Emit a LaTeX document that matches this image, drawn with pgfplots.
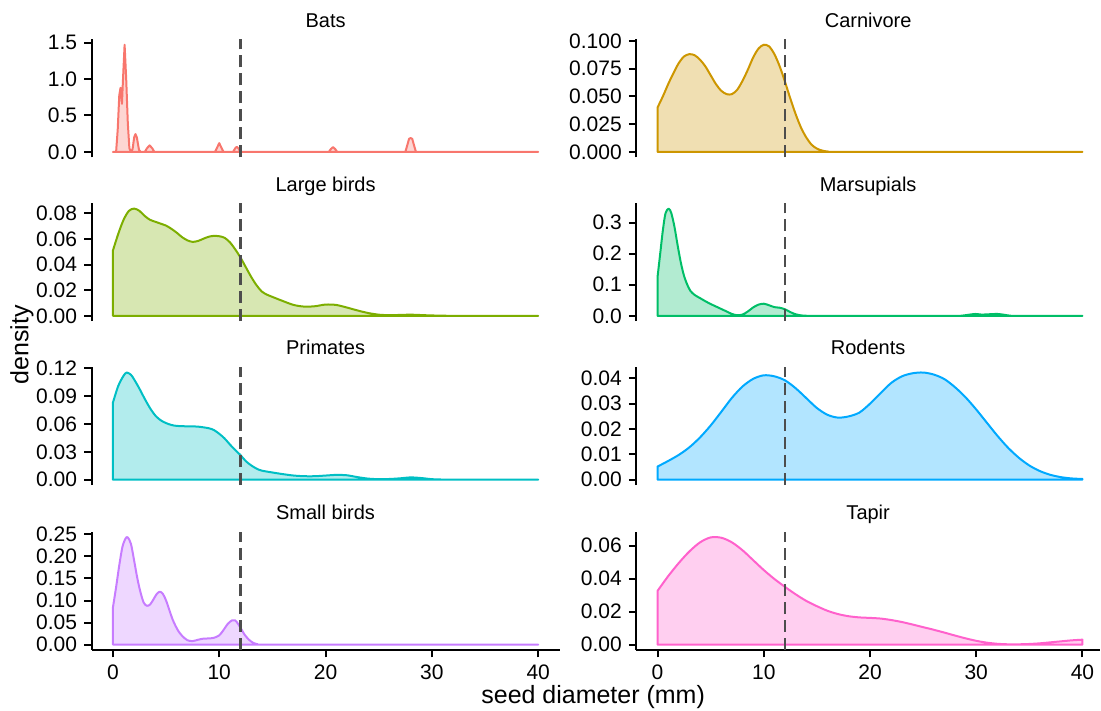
\documentclass[border=0pt]{standalone}
\usepackage{fontspec}
\setmainfont{Liberation Sans}
\usepackage{pgfplots}
\pgfplotsset{compat=1.18}

% ggplot2 hue palette, eight groups
\definecolor{cBats}{HTML}{F8766D}
\definecolor{cCarn}{HTML}{CD9600}
\definecolor{cLarge}{HTML}{7CAE00}
\definecolor{cMars}{HTML}{00BE67}
\definecolor{cPrim}{HTML}{00BFC4}
\definecolor{cRod}{HTML}{00A9FF}
\definecolor{cSmall}{HTML}{C77CFF}
\definecolor{cTapir}{HTML}{FF61CC}
\definecolor{vline}{HTML}{4D4D4D}

\pgfplotsset{
  panel/.style={
    scale only axis, anchor=south west,
    height=59pt,
    xmin=-2,
    axis y line*=left,
    axis line style={-, line width=1pt, black},
    tick style={line width=1pt, black},
    major tick length=3.75pt,
    tick align=outside,
    ytick pos=left,
    scaled y ticks=false,
    /pgf/number format/assume math mode=true,
    tick label style={font=\fontsize{10.5}{12}\selectfont, black},
    every axis title/.style={font=\fontsize{10}{12}\selectfont, at={(0.5,1)}, anchor=base, yshift=6.1pt},
    clip=false,
  },
  leftcol/.style={panel, at={(45.85pt,#1)}, width=234.08pt, xmax=42},
  rightcol/.style={panel, at={(318.35pt,#1)}, width=232.0pt, xmax=41.65},
  toprow/.style={hide x axis},
  bottomrow/.style={axis x line*=bottom, xtick={0,10,20,30,40}, xtick pos=left},
  dens/.style={draw=#1, fill=#1, fill opacity=0.3, line width=1pt, line join=round},
  cut/.style={vline, line width=1.1pt, dash pattern=on 6pt off 3pt},
}

\begin{document}
\begin{tikzpicture}
\path (0,0) rectangle (550.5pt,355.5pt);

% ---- Bats ----
\begin{axis}[leftcol=276.8pt, toprow, title={Bats},
  ymin=-0.0735, ymax=1.5435, ytick={0,0.5,1,1.5}, yticklabels={0.0,0.5,1.0,1.5}]
\addplot[dens=cBats] coordinates {
 (0,0) (0.3,0) (0.45,0.3) (0.6,0.78) (0.72,0.88) (0.85,0.66) (0.95,1.0) (1.1,1.47)
 (1.25,1.0) (1.4,0.4) (1.55,0.05) (1.7,0) (1.85,0.04) (2.0,0.2) (2.12,0.245)
 (2.25,0.2) (2.45,0.03) (2.6,0) (3.0,0) (3.2,0.05) (3.45,0.09) (3.7,0.05) (3.9,0)
 (9.6,0) (9.8,0.06) (10.0,0.12) (10.2,0.06) (10.4,0) (11.3,0) (11.5,0.05)
 (11.65,0.07) (11.8,0.05) (12.0,0) (20.3,0) (20.5,0.04) (20.7,0.065) (20.9,0.04)
 (21.1,0) (27.5,0) (27.7,0.1) (27.85,0.18) (28.0,0.19) (28.15,0.18) (28.3,0.1)
 (28.5,0) (40,0)} \closedcycle;
\addplot[cut] coordinates {(12,-0.0735) (12,1.5435)};
\end{axis}

% ---- Carnivore ----
\begin{axis}[rightcol=276.8pt, toprow, title={Carnivore},
  ymin=-0.004825, ymax=0.101325, ytick={0,0.025,0.05,0.075,0.1},
  yticklabels={0.000,0.025,0.050,0.075,0.100}]
\addplot[dens=cCarn, smooth] coordinates {
 (0,0.040) (0.5,0.050) (1,0.061) (1.5,0.071) (2,0.080) (2.5,0.086) (3,0.088)
 (3.5,0.087) (4,0.083) (4.5,0.077) (5,0.069) (5.5,0.061) (6,0.055) (6.5,0.052)
 (7,0.052) (7.5,0.056) (8,0.064) (8.5,0.074) (9,0.085) (9.5,0.093) (10,0.0965)
 (10.5,0.095) (11,0.088) (11.5,0.077) (12,0.063) (12.5,0.048) (13,0.034)
 (13.5,0.022) (14,0.013) (14.5,0.0065) (15,0.003) (15.5,0.0012) (16,0.0004)
 (17,0) (25,0) (40,0)} \closedcycle;
\addplot[cut] coordinates {(12,-0.004825) (12,0.101325)};
\end{axis}

% ---- Large birds ----
\begin{axis}[leftcol=194.8pt, toprow, title={Large birds},
  ymin=-0.00419, ymax=0.08799, ytick={0,0.02,0.04,0.06,0.08},
  yticklabels={0.00,0.02,0.04,0.06,0.08}]
\addplot[dens=cLarge, smooth] coordinates {
 (0,0.051) (0.5,0.064) (1,0.075) (1.5,0.082) (2,0.0838) (2.5,0.082) (3,0.078)
 (3.5,0.075) (4,0.0735) (4.5,0.0720) (5,0.0705) (5.5,0.068) (6,0.065) (6.5,0.0615)
 (7,0.059) (7.5,0.0578) (8,0.0585) (8.5,0.0602) (9,0.0618) (9.5,0.0625) (10,0.0622)
 (10.5,0.061) (11,0.0575) (11.5,0.052) (12,0.0455) (12.5,0.038) (13,0.0305)
 (13.5,0.024) (14,0.019) (14.5,0.0165) (15,0.0148) (16,0.0115) (17,0.0085)
 (18,0.0072) (19,0.0075) (20,0.0088) (21,0.0085) (22,0.0065) (23,0.0042)
 (24,0.0022) (25,0.0009) (26,0.0005) (27,0.0007) (28,0.0009) (29,0.0006)
 (30,0.0003) (32,0) (36,0) (40,0)} \closedcycle;
\addplot[cut] coordinates {(12,-0.00419) (12,0.08799)};
\end{axis}

% ---- Marsupials ----
\begin{axis}[rightcol=194.8pt, toprow, title={Marsupials},
  ymin=-0.01725, ymax=0.36225, ytick={0,0.1,0.2,0.3},
  yticklabels={0.0,0.1,0.2,0.3}]
\addplot[dens=cMars, smooth] coordinates {
 (0,0.125) (0.25,0.2) (0.5,0.275) (0.75,0.33) (1.05,0.345) (1.3,0.33) (1.6,0.285)
 (1.9,0.225) (2.2,0.17) (2.5,0.128) (2.8,0.1) (3.1,0.08) (3.5,0.067) (4,0.057)
 (4.5,0.047) (5,0.038) (5.5,0.03) (6,0.022) (6.5,0.014) (7,0.006) (7.5,0.002)
 (8,0.004) (8.5,0.014) (9,0.027) (9.5,0.036) (10,0.039) (10.5,0.034) (11,0.028)
 (11.5,0.026) (12,0.021) (12.5,0.012) (13,0.005) (13.5,0.0015) (14,0.0003)
 (15,0) (28,0) (28.5,0) (29.2,0.003) (29.9,0.006) (30.5,0.004) (31.2,0.005)
 (32,0.006) (32.7,0.003) (33.3,0) (34,0) (40,0)} \closedcycle;
\addplot[cut] coordinates {(12,-0.01725) (12,0.36225)};
\end{axis}

% ---- Primates ----
\begin{axis}[leftcol=112.8pt, toprow, title={Primates},
  ymin=-0.005775, ymax=0.121275, ytick={0,0.03,0.06,0.09,0.12},
  yticklabels={0.00,0.03,0.06,0.09,0.12}]
\addplot[dens=cPrim, smooth] coordinates {
 (0,0.083) (0.5,0.101) (1,0.112) (1.3,0.1155) (1.7,0.113) (2,0.108) (2.5,0.098)
 (3,0.087) (3.5,0.077) (4,0.069) (4.5,0.064) (5,0.061) (5.5,0.059) (6,0.058)
 (7,0.0575) (8,0.0572) (9,0.0555) (9.5,0.0535) (10,0.0495) (10.5,0.0445)
 (11,0.038) (11.5,0.032) (12,0.0265) (12.5,0.02) (13,0.0155) (13.5,0.012)
 (14,0.0098) (15,0.0078) (16,0.006) (17,0.0045) (18,0.0038) (19,0.0038)
 (20,0.0045) (21,0.0052) (22,0.0048) (23,0.0028) (24,0.0012) (25,0.0006)
 (26,0.0008) (27,0.0015) (28,0.0025) (29,0.0018) (30,0.0006) (31,0.0002)
 (32,0) (36,0) (40,0)} \closedcycle;
\addplot[cut] coordinates {(12,-0.005775) (12,0.121275)};
\end{axis}

% ---- Rodents ----
\begin{axis}[rightcol=112.8pt, toprow, title={Rodents},
  ymin=-0.002115, ymax=0.044415, ytick={0,0.01,0.02,0.03,0.04},
  yticklabels={0.00,0.01,0.02,0.03,0.04}]
\addplot[dens=cRod, smooth] coordinates {
 (0,0.0052) (1,0.0074) (2,0.0098) (3,0.0128) (4,0.0167) (5,0.0214) (6,0.0268)
 (7,0.0323) (8,0.0368) (9,0.0398) (10,0.0412) (11,0.0408) (12,0.0392) (13,0.0361)
 (14,0.0322) (15,0.0283) (16,0.0256) (17,0.0245) (18,0.0250) (19,0.0265)
 (20,0.0300) (21,0.0342) (22,0.0382) (23,0.0408) (24,0.0420) (25,0.0423)
 (26,0.0415) (27,0.0397) (28,0.0365) (29,0.0325) (30,0.0277) (31,0.0225)
 (32,0.0173) (33,0.0126) (34,0.0087) (35,0.0056) (36,0.0034) (37,0.0019)
 (38,0.0010) (39,0.0005) (40,0.0003)} \closedcycle;
\addplot[cut] coordinates {(12,-0.002115) (12,0.044415)};
\end{axis}

% ---- Small birds ----
\begin{axis}[leftcol=30.3pt, bottomrow, title={Small birds},
  ymin=-0.01215, ymax=0.25515, ytick={0,0.05,0.1,0.15,0.2,0.25},
  yticklabels={0.00,0.05,0.10,0.15,0.20,0.25}]
\addplot[dens=cSmall, smooth] coordinates {
 (0,0.084) (0.3,0.13) (0.6,0.18) (0.9,0.222) (1.2,0.241) (1.4,0.243) (1.7,0.228)
 (2.0,0.19) (2.3,0.15) (2.6,0.118) (2.9,0.095) (3.2,0.088) (3.5,0.091) (3.8,0.102)
 (4.1,0.114) (4.4,0.12) (4.7,0.115) (5.0,0.1) (5.3,0.079) (5.6,0.058) (5.9,0.042)
 (6.2,0.029) (6.5,0.02) (7.0,0.01) (7.5,0.008) (8,0.011) (8.5,0.0135) (9,0.014)
 (9.5,0.0155) (10,0.021) (10.4,0.033) (10.8,0.047) (11.2,0.055) (11.5,0.055)
 (11.8,0.046) (12.1,0.034) (12.4,0.022) (12.8,0.011) (13.2,0.004) (13.6,0.001)
 (14,0) (20,0) (40,0)} \closedcycle;
\addplot[cut] coordinates {(12,-0.01215) (12,0.25515)};
\end{axis}

% ---- Tapir ----
\begin{axis}[rightcol=30.3pt, bottomrow, title={Tapir},
  ymin=-0.00325, ymax=0.06825, ytick={0,0.02,0.04,0.06},
  yticklabels={0.00,0.02,0.04,0.06}]
\addplot[dens=cTapir, smooth] coordinates {
 (0,0.0326) (1,0.0415) (2,0.0495) (3,0.0565) (4,0.0620) (5,0.0650) (6,0.0648)
 (7,0.0620) (8,0.0572) (9,0.0512) (10,0.0452) (11,0.0398) (12,0.0350) (13,0.0305)
 (14,0.0265) (15,0.0233) (16,0.0205) (17,0.0185) (18,0.0172) (19,0.0165)
 (20,0.0162) (21,0.0158) (22,0.0149) (23,0.0137) (24,0.0122) (25,0.0106)
 (26,0.0090) (27,0.0073) (28,0.0055) (29,0.0038) (30,0.0023) (31,0.0012)
 (32,0.0005) (33,0.0002) (34,0.0002) (35,0.0004) (36,0.0008) (37,0.0014)
 (38,0.0020) (39,0.0026) (40,0.0030)} \closedcycle;
\addplot[cut] coordinates {(12,-0.00325) (12,0.06825)};
\end{axis}

% shared axis titles
\node[rotate=90, inner sep=0pt, font=\fontsize{12.5}{14}\selectfont] at (11pt,183pt) {density};
\node[inner sep=0pt, font=\fontsize{12.5}{14}\selectfont] at (296.75pt,7pt) {seed diameter (mm)};
\end{tikzpicture}
\end{document}
